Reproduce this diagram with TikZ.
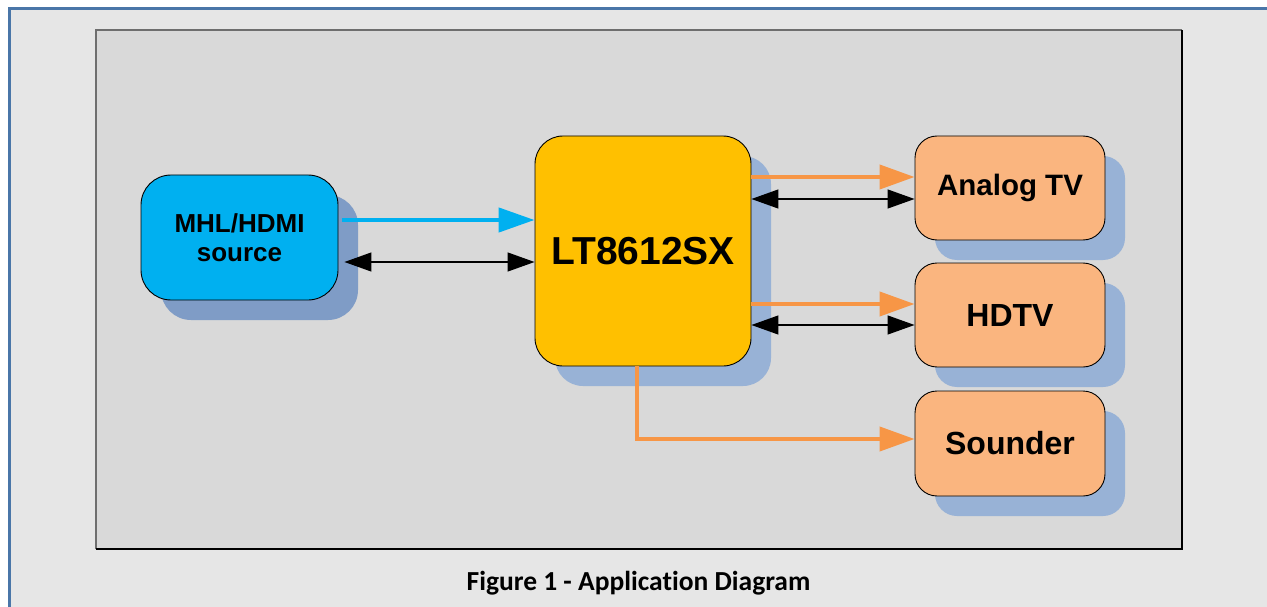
\documentclass[tikz,border=0pt]{standalone}
\usepackage{fontspec}
\setmainfont{Liberation Sans}
\newfontfamily\capfont[Ligatures=NoCommon]{Carlito}
\usetikzlibrary{arrows.meta,shadows}
\definecolor{outerbg}{HTML}{E6E6E6}
\definecolor{framebl}{HTML}{4A76A8}
\definecolor{panelbg}{HTML}{D9D9D9}
\definecolor{panelgr}{HTML}{6E6E6E}
\definecolor{cyanbox}{HTML}{00B0F0}
\definecolor{goldbox}{HTML}{FFC000}
\definecolor{peachbox}{HTML}{FAB57F}
\definecolor{orarrow}{HTML}{F79646}
\definecolor{shadowA}{HTML}{7F9CC6}
\definecolor{shadowB}{HTML}{98B2D6}
\tikzset{
  blockbox/.style={draw=black, line width=0.9pt, align=center,
    font=\bfseries, inner sep=0pt},
  shadA/.style={general shadow={fill=shadowA, shadow xshift=20pt, shadow yshift=-20pt}},
  shadB/.style={general shadow={fill=shadowB, shadow xshift=20pt, shadow yshift=-20pt}},
  bluearr/.style={draw=cyanbox, line width=4.5pt,
    -{Triangle[length=36pt,width=24pt,fill=cyanbox]}},
  orarr/.style={draw=orarrow, line width=4pt,
    -{Triangle[length=35pt,width=24pt,fill=orarrow]}},
  duplex/.style={draw=black, line width=1.3pt,
    {Triangle[length=27pt,width=19pt]}-{Triangle[length=27pt,width=19pt]}},
}
\begin{document}
\begin{tikzpicture}[x=1pt,y=-1pt]
\useasboundingbox (0,0) rectangle (1267,607);
\clip (0,0) rectangle (1267,607);
\fill[white] (0,0) rectangle (1267,607);
% outer frame
\draw[fill=outerbg, draw=framebl, line width=2.6pt] (9.3,8.3) rectangle (1290,630);
% inner panel
\fill[panelbg] (96,30) rectangle (1182,549);
\draw[panelgr, line width=1.5pt] (96,549) -- (96,30) -- (1182,30);
\draw[black, line width=1.3pt] (96,549) -- (1182,549) -- (1182,30);

% nodes
\node[blockbox, shadA, fill=cyanbox, rounded corners=30pt,
  minimum width=197pt, minimum height=125pt,
  font=\fontsize{26}{28.5}\bfseries] (src) at (239.5,237.5) {MHL/HDMI\\source};
\node[blockbox, shadB, fill=goldbox, rounded corners=28pt,
  minimum width=216pt, minimum height=230pt,
  font=\fontsize{39}{42}\bfseries] (chip) at (643,251) {LT8612SX};
\node[blockbox, shadB, fill=peachbox, rounded corners=22pt,
  minimum width=190pt, minimum height=104pt,
  font=\fontsize{29.5}{32}\bfseries] (atv) at (1010,188) {Analog TV};
\node[blockbox, shadB, fill=peachbox, rounded corners=22pt,
  minimum width=190pt, minimum height=104pt,
  font=\fontsize{32}{34}\bfseries] (hdtv) at (1010,315) {HDTV};
\node[blockbox, shadB, fill=peachbox, rounded corners=22pt,
  minimum width=190pt, minimum height=105pt,
  font=\fontsize{32}{34}\bfseries] (snd) at (1010,443.5) {Sounder};

% connectors
\draw[bluearr] ([xshift=3.5pt]src.east |- 0,220) -- (chip.west |- 0,220);
\draw[duplex] ([xshift=6pt]src.east |- 0,262) -- (chip.west |- 0,262);
\draw[orarr] (chip.east |- 0,177) -- (atv.west |- 0,177);
\draw[duplex] (chip.east |- 0,199) -- (atv.west |- 0,199);
\draw[orarr] (chip.east |- 0,304) -- (hdtv.west |- 0,304);
\draw[duplex] (chip.east |- 0,325) -- (hdtv.west |- 0,325);
\coordinate (bend) at (637,439);
\draw[orarr] (chip.south -| bend) -- (bend) -- (snd.west |- bend);

% caption
\node[font=\capfont\bfseries\fontsize{27.5}{30}\selectfont] (cap) at (638.5,583) {Figure 1 - Application Diagram};
\end{tikzpicture}
\end{document}
